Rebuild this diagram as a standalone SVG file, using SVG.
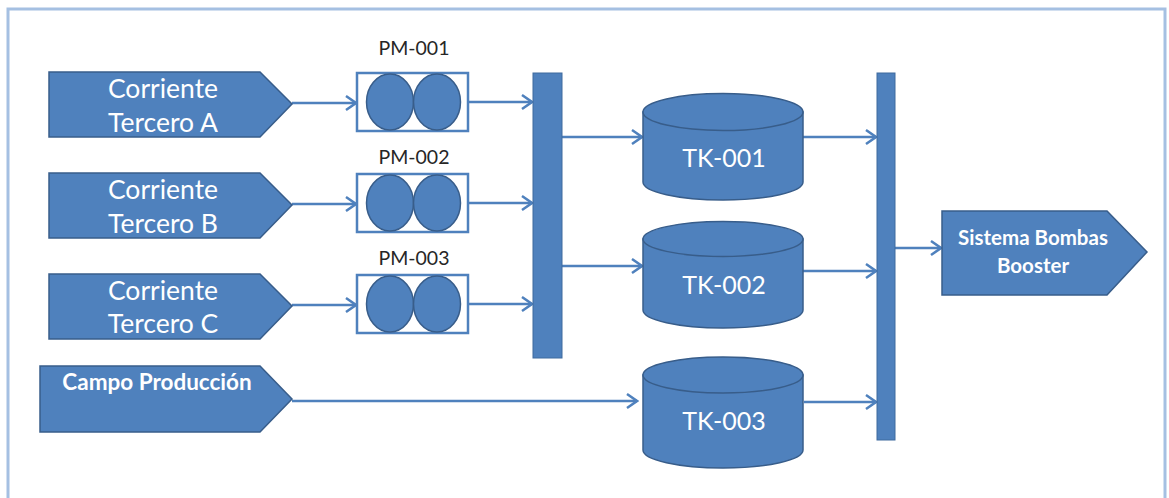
<svg xmlns="http://www.w3.org/2000/svg" width="1169" height="498" viewBox="0 0 1169 498">
  <defs>
    <style>
      .shape { fill: #4F81BD; stroke: #385D8A; stroke-width: 1.5; }
      .box { fill: #FFFFFF; stroke: #4F81BD; stroke-width: 2.5; }
      .bus { fill: #4F81BD; stroke: #3F6A9E; stroke-width: 1; }
      .pipe { fill: none; stroke: #4F81BD; stroke-width: 2.5; marker-end: url(#arrow); }
      .lbl { font-family: Lato, "Open Sans", "Liberation Sans", sans-serif; fill: #FFFFFF; text-anchor: middle; }
      .src { font-size: 26.5px; }
      .tk { font-size: 25px; }
      .campo { font-size: 22.5px; font-weight: bold; }
      .boost { font-size: 20.5px; font-weight: bold; }
      .tag { font-family: Lato, "Open Sans", "Liberation Sans", sans-serif; font-size: 19.5px; fill: #262626; text-anchor: middle; }
    </style>
    <marker id="arrow" markerUnits="userSpaceOnUse" markerWidth="14" markerHeight="18" viewBox="0 0 14 18" refX="12" refY="9" orient="auto">
      <path d="M2,2 L12,9 L2,16" fill="none" stroke="#4F81BD" stroke-width="2.5"/>
    </marker>
  </defs>

  <!-- frame -->
  <rect x="8" y="9" width="1157" height="510" fill="#FFFFFF" stroke="#A5C0E2" stroke-width="3"/>

  <!-- pipes -->
  <g id="connectors">
    <line class="pipe" x1="292" y1="103" x2="356" y2="103"/>
    <line class="pipe" x1="292" y1="204" x2="356" y2="204"/>
    <line class="pipe" x1="292" y1="305" x2="356" y2="305"/>
    <line class="pipe" x1="469" y1="102" x2="532" y2="102"/>
    <line class="pipe" x1="469" y1="203" x2="532" y2="203"/>
    <line class="pipe" x1="469" y1="304" x2="532" y2="304"/>
    <line class="pipe" x1="562" y1="137" x2="642" y2="137"/>
    <line class="pipe" x1="562" y1="266" x2="642" y2="266"/>
    <line class="pipe" x1="292" y1="401" x2="637" y2="401"/>
    <line class="pipe" x1="803" y1="137" x2="876" y2="137"/>
    <line class="pipe" x1="803" y1="271" x2="876" y2="271"/>
    <line class="pipe" x1="804" y1="402" x2="876" y2="402"/>
    <line class="pipe" x1="895" y1="248" x2="941" y2="248"/>
  </g>

  <!-- incoming streams -->
  <g id="src-a">
    <polygon class="shape" points="49,72 260,72 292,104 260,137 49,137"/>
    <text class="lbl src" x="163" y="98">Corriente</text>
    <text class="lbl src" x="163" y="132">Tercero A</text>
  </g>
  <g id="src-b">
    <polygon class="shape" points="49,173 260,173 292,205 260,238 49,238"/>
    <text class="lbl src" x="163" y="199">Corriente</text>
    <text class="lbl src" x="163" y="233">Tercero B</text>
  </g>
  <g id="src-c">
    <polygon class="shape" points="49,274 260,274 292,306 260,339 49,339"/>
    <text class="lbl src" x="163" y="300">Corriente</text>
    <text class="lbl src" x="163" y="333">Tercero C</text>
  </g>
  <g id="src-campo">
    <polygon class="shape" points="40,366 260,366 292,399 260,432 40,432"/>
    <text class="lbl campo" x="157" y="390">Campo Producción</text>
  </g>

  <!-- pumps -->
  <g id="pm-001">
    <text class="tag" x="414" y="55">PM-001</text>
    <rect class="box" x="357" y="73" width="111" height="58"/>
    <ellipse class="shape" cx="390" cy="102" rx="23.5" ry="28"/>
    <ellipse class="shape" cx="437" cy="102" rx="23.5" ry="28"/>
  </g>
  <g id="pm-002">
    <text class="tag" x="414" y="164">PM-002</text>
    <rect class="box" x="357" y="174" width="111" height="58"/>
    <ellipse class="shape" cx="390" cy="203" rx="23.5" ry="28"/>
    <ellipse class="shape" cx="437" cy="203" rx="23.5" ry="28"/>
  </g>
  <g id="pm-003">
    <text class="tag" x="414" y="265">PM-003</text>
    <rect class="box" x="357" y="275" width="111" height="58"/>
    <ellipse class="shape" cx="390" cy="304" rx="23.5" ry="28"/>
    <ellipse class="shape" cx="437" cy="304" rx="23.5" ry="28"/>
  </g>

  <!-- headers -->
  <g id="header-in">
    <rect class="bus" x="533" y="73" width="29" height="285"/>
  </g>
  <g id="header-out">
    <rect class="bus" x="877" y="73" width="18" height="367"/>
  </g>

  <!-- tanks -->
  <g id="tk-001">
    <path class="shape" d="M643,112 L643,182 A80,18 0 0 0 803,182 L803,112 Z"/>
    <ellipse class="shape" cx="723" cy="112" rx="80" ry="18.5"/>
    <text class="lbl tk" x="724" y="167">TK-001</text>
  </g>
  <g id="tk-002">
    <path class="shape" d="M643,239 L643,310 A80,18 0 0 0 803,310 L803,239 Z"/>
    <ellipse class="shape" cx="723" cy="239" rx="80" ry="17.5"/>
    <text class="lbl tk" x="724" y="294">TK-002</text>
  </g>
  <g id="tk-003">
    <path class="shape" d="M643,375 L643,450 A80,18 0 0 0 803,450 L803,375 Z"/>
    <ellipse class="shape" cx="723" cy="375" rx="80" ry="18"/>
    <text class="lbl tk" x="724" y="430">TK-003</text>
  </g>

  <!-- booster -->
  <g id="booster">
    <polygon class="shape" points="942,211 1107,211 1147,252 1107,295 942,295"/>
    <text class="lbl boost" x="1033" y="245">Sistema Bombas</text>
    <text class="lbl boost" x="1033" y="273">Booster</text>
  </g>
</svg>
